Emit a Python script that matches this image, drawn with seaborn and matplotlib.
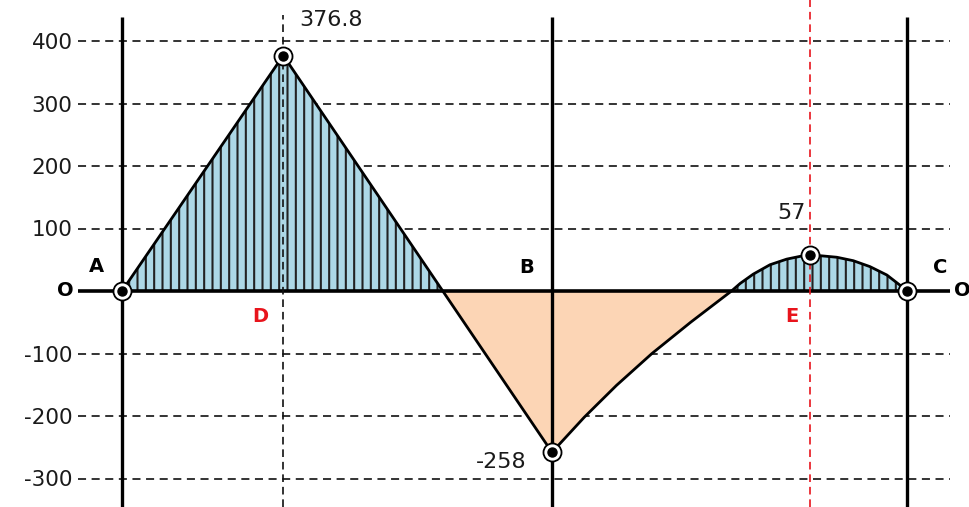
import matplotlib
matplotlib.use("Agg")
import matplotlib.pyplot as plt
import numpy as np
import pandas as pd
import seaborn as sns

# Support positions along the beam (m) and bending moment values (kN·m)
support_names = ["A", "B", "C"]
support_x = [0.0, 8.0, 14.6]
point_names = ["D", "E"]
point_x = [3.0, 12.8]

# Bending moment diagram: key points plus samples along the curved span BC
moment_x = [0.0, 3.0, 8.0, 8.6, 9.2, 9.86, 10.58, 11.34, 11.50, 11.745,
            12.056, 12.367, 12.676, 12.8, 12.986, 13.30, 13.605, 13.916,
            14.23, 14.47, 14.6]
moment_y = [0.0, 376.8, -258.0, -202.0, -151.0, -100.0, -50.0, 0.0, 12.0, 27.0,
            42.0, 51.0, 56.5, 57.0, 56.5, 54.0, 48.5, 39.0,
            25.6, 9.6, 0.0]

# Marked nodes and their value labels
node_x = [0.0, 3.0, 8.0, 12.8, 14.6]
node_y = [0.0, 376.8, -258.0, 57.0, 0.0]
value_labels = ["376.8", "57", "-258"]
value_at = [(3.0, 376.8), (12.8, 57.0), (8.0, -258.0)]

y_ticks = [-300, -200, -100, 100, 200, 300, 400]

sns.set_theme(style="white")
plt.rcParams["font.family"] = ["DejaVu Sans"]
plt.rcParams["lines.scale_dashes"] = False
plt.rcParams["hatch.linewidth"] = 1.5

df = pd.DataFrame({"x": moment_x, "M": moment_y})

fig = plt.figure(figsize=(9.7, 5.07), dpi=100)
ax = fig.add_axes([78 / 970, 0.0, 872 / 970, 1.0])
ax.set_xlim(-0.8186, 15.405)
ax.set_ylim(-345.6, 465.6)

# dashed horizontal grid
dash = (0, (5.8, 4.0))
for t in y_ticks:
    ax.axhline(t, color="#111111", lw=1.2, ls=dash, zorder=1)

x = np.asarray(moment_x)
m = np.asarray(moment_y)
ax.fill_between(x, m, 0, where=m >= 0, interpolate=True,
                facecolor="#add8e6", edgecolor="#222222", hatch="||",
                linewidth=0, zorder=2)
ax.fill_between(x, m, 0, where=m <= 0, interpolate=True,
                facecolor="#fcd5b5", edgecolor="none", linewidth=0, zorder=2)

# beam axis and supports
ax.axhline(0, color="black", lw=2.6, zorder=3)
for sx in support_x:
    ax.plot([sx, sx], [-345.6, 438.0], color="black", lw=2.4, zorder=3,
            solid_capstyle="butt")
ax.plot([point_x[0], point_x[0]], [-345.6, 441.0], color="#111111", lw=1.2,
        ls=(0, (5.5, 3.5)), zorder=3)
ax.plot([point_x[1], point_x[1]], [-345.6, 465.6], color="#e8141c", lw=1.2,
        ls=(0, (5.5, 3.5)), zorder=3)

sns.lineplot(data=df, x="x", y="M", ax=ax, color="black", lw=2.0,
             sort=False, zorder=4, legend=False)

ax.plot(node_x, node_y, ls="none", marker="o", ms=13, mfc="white",
        mec="black", mew=1.3, zorder=5)
ax.plot(node_x, node_y, ls="none", marker="o", ms=6.5, mfc="black",
        mec="black", zorder=6)

# labels
ax.set_yticks(y_ticks)
ax.set_yticklabels([str(t) for t in y_ticks], fontsize=15.5, color="#1a1a1a")
ax.tick_params(axis="y", length=0, pad=4)
ax.set_xticks([])
ax.set_xlabel("")
ax.set_ylabel("")
for s in ax.spines.values():
    s.set_visible(False)

bold = dict(fontsize=14, fontweight="bold", ha="center", va="center")
ax.text(-0.484, 40, support_names[0], color="black", **bold)
ax.text(7.535, 38, support_names[1], color="black", **bold)
ax.text(15.22, 38, support_names[2], color="black", **bold)
ax.text(2.567, -40, point_names[0], color="#e8141c", **bold)
ax.text(12.465, -40, point_names[1], color="#e8141c", **bold)
ax.text(-1.06, 0, "O", color="black", clip_on=False, **bold)
ax.text(15.63, 0, "O", color="black", clip_on=False, **bold)

offsets = [(0.89, 57), (-0.35, 68), (-0.95, -16)]
for lab, (vx, vy), (dx, dy) in zip(value_labels, value_at, offsets):
    ax.text(vx + dx, vy + dy, lab, fontsize=16, color="#1a1a1a",
            ha="center", va="center")

fig.savefig("out.png", dpi=100)
